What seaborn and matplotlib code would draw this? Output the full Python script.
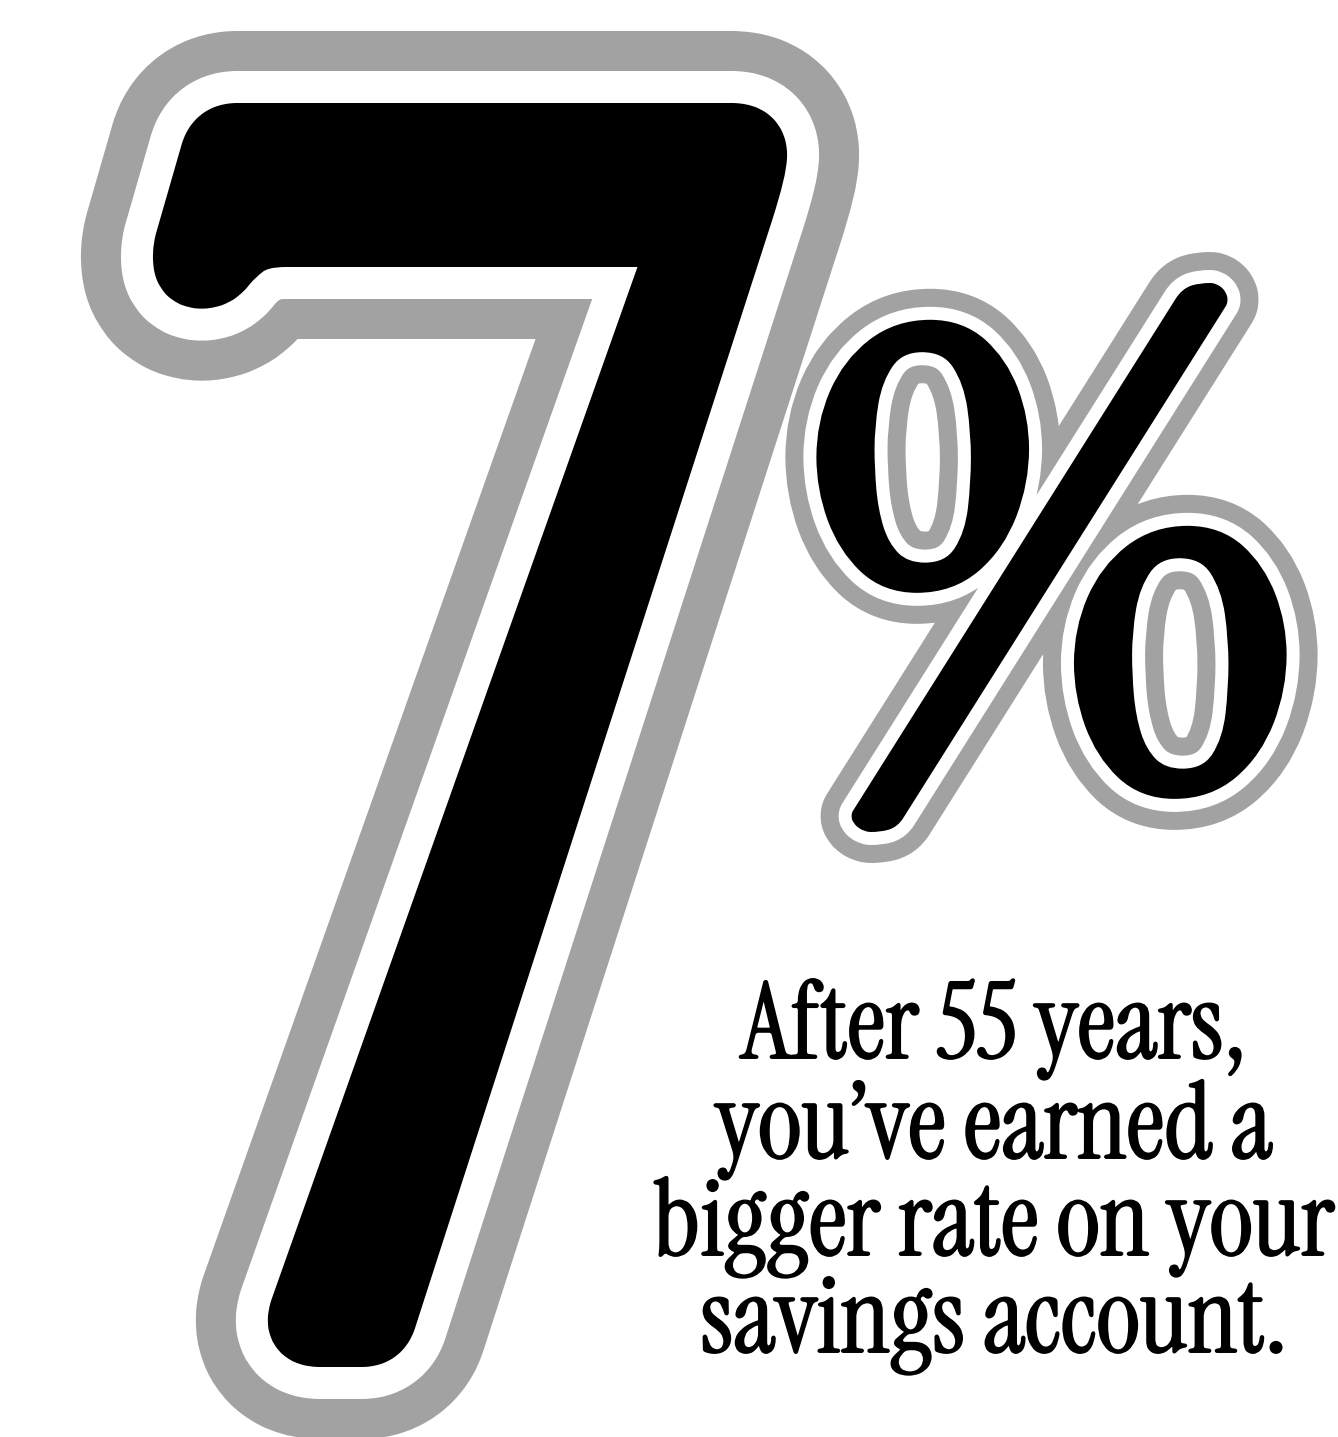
import matplotlib
matplotlib.use("Agg")
import matplotlib.pyplot as plt
import matplotlib.patheffects as pe
from matplotlib.font_manager import FontProperties
from matplotlib.textpath import TextPath
import seaborn as sns

sns.set_style("white")

# ===================== CONTENT =====================
big_digit = "7"
big_sign = "%"
headline = ["After 55 years,", "you\u2019ve earned a", "bigger rate on your", "savings account."]

# target boxes of the black glyphs (pixels, y down)
digit_box = (95, 103, 845, 1367)      # left, top, right, bottom
sign_box = (783, 283, 1320, 832)
line_baselines = [1058, 1158, 1255, 1352]
line_center = 994

W, H, DPI = 1338, 1437, 100
GRAY = "#a2a2a2"
HEAD_FONT = "Instrument Serif"
BIG_FONT = "Instrument Serif"
SIGN_FONT = "EB Garamond"


def px2pt(v):
    return v * 72.0 / DPI


def fit_glyph(ax, s, family, weight, box, thick, white, gray):
    prop = FontProperties(family=family, weight=weight)
    ext = TextPath((0, 0), s, size=100, prop=prop).get_extents()
    # the black stroke grows the glyph, so fit the bare outline inside a smaller box
    left, top, right, bottom = box[0] + thick, box[1] + thick, box[2] - thick, box[3] - thick
    scale = min((right - left) / ext.width, (bottom - top) / ext.height)
    x0 = (left + right) / 2 - (ext.x0 + ext.width / 2) * scale
    base = bottom + ext.y0 * scale - ((bottom - top) - ext.height * scale) / 2
    effects = [
        pe.withStroke(linewidth=px2pt(2 * (thick + white + gray)), foreground=GRAY),
        pe.withStroke(linewidth=px2pt(2 * (thick + white)), foreground="white"),
        pe.withStroke(linewidth=px2pt(2 * thick), foreground="black"),
    ]
    t = ax.text(x0, base, s, fontproperties=prop, fontsize=px2pt(scale * 100),
                color="black", ha="left", va="baseline")
    t.set_path_effects(effects)
    return t


fig = plt.figure(figsize=(W / DPI, H / DPI), dpi=DPI)
ax = fig.add_axes([0, 0, 1, 1])
ax.set_xlim(0, W)
ax.set_ylim(H, 0)
ax.axis("off")

fit_glyph(ax, big_digit, BIG_FONT, "normal", digit_box, thick=32, white=32, gray=40)
fit_glyph(ax, big_sign, SIGN_FONT, "bold", sign_box, thick=7, white=13, gray=18)

# headline, sized so the widest line spans about 680 px
hprop = FontProperties(family=HEAD_FONT)
widest = max(TextPath((0, 0), s, size=100, prop=hprop).get_extents().width for s in headline)
head_pt = px2pt(680 / widest * 100)
for s, yb in zip(headline, line_baselines):
    t = ax.text(line_center, yb, s, fontproperties=hprop, fontsize=head_pt,
                color="black", ha="center", va="baseline")
    t.set_path_effects([pe.withStroke(linewidth=1.4, foreground="black")])

fig.savefig("out.png", dpi=DPI, facecolor="white")
